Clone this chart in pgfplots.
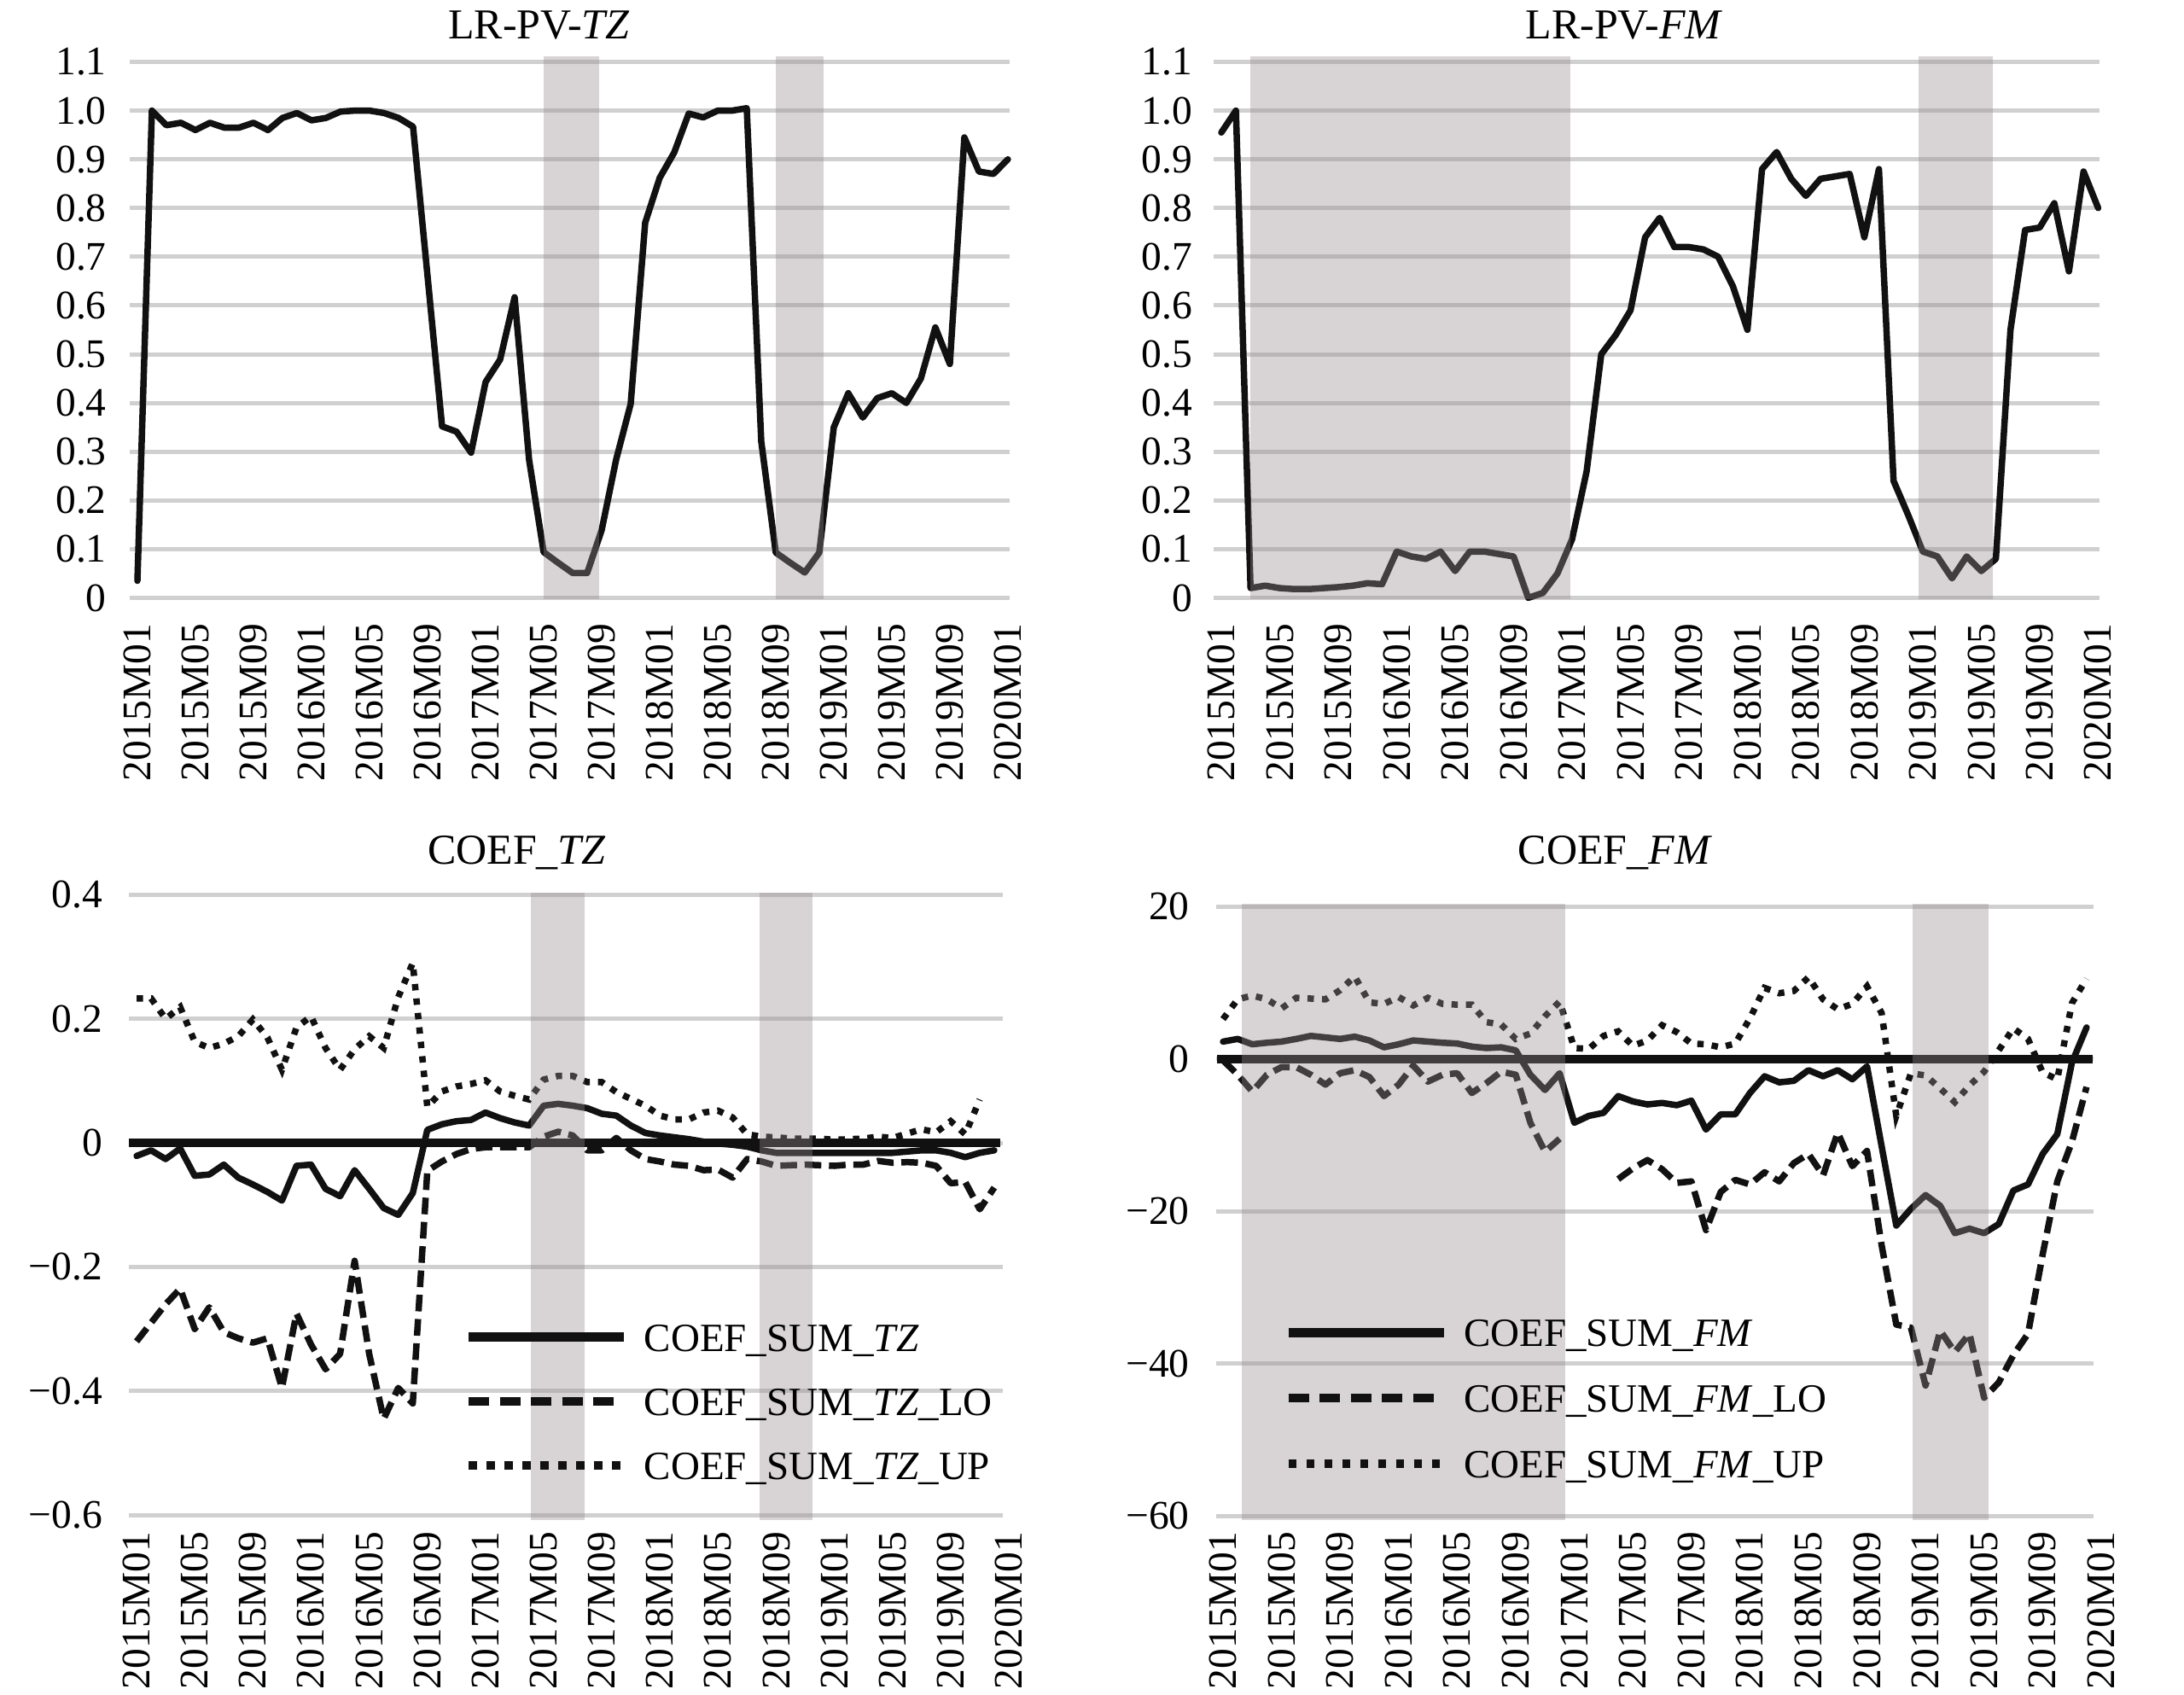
\documentclass[border=0pt]{standalone}
\usepackage{fontspec}
\setmainfont{Liberation Serif}
\usepackage{pgfplots}
\usepackage{pgfplotstable}
\pgfplotsset{compat=1.18}
\definecolor{gridc}{RGB}{208,208,208}
\definecolor{shadec}{rgb}{0.583,0.538,0.556}
\definecolor{linec}{RGB}{17,17,17}
\tikzset{gl/.style={gridc, line width=1pt}}

\pgfplotstableread{
i v
0 0.035
1 1.0
2 0.97
3 0.975
4 0.96
5 0.975
6 0.965
7 0.965
8 0.975
9 0.96
10 0.985
11 0.995
12 0.98
13 0.985
14 0.998
15 1.0
16 1.0
17 0.995
18 0.985
19 0.967
20 0.66
21 0.352
22 0.341
23 0.298
24 0.443
25 0.489
26 0.617
27 0.283
28 0.094
29 0.072
30 0.051
31 0.051
32 0.139
33 0.284
34 0.398
35 0.77
36 0.862
37 0.914
38 0.994
39 0.986
40 1.0
41 1.0
42 1.005
43 0.321
44 0.093
45 0.072
46 0.052
47 0.093
48 0.35
49 0.42
50 0.37
51 0.41
52 0.42
53 0.40
54 0.45
55 0.555
56 0.48
57 0.945
58 0.875
59 0.87
60 0.90
}\tlpv

\pgfplotstableread{
i v
0 0.955
1 1.0
2 0.02
3 0.025
4 0.02
5 0.018
6 0.018
7 0.02
8 0.022
9 0.025
10 0.03
11 0.028
12 0.095
13 0.085
14 0.08
15 0.095
16 0.055
17 0.095
18 0.095
19 0.09
20 0.085
21 0.0
22 0.01
23 0.05
24 0.12
25 0.26
26 0.50
27 0.54
28 0.59
29 0.74
30 0.78
31 0.72
32 0.72
33 0.715
34 0.70
35 0.64
36 0.55
37 0.88
38 0.915
39 0.86
40 0.825
41 0.86
42 0.865
43 0.87
44 0.74
45 0.88
46 0.24
47 0.17
48 0.095
49 0.085
50 0.04
51 0.085
52 0.055
53 0.08
54 0.55
55 0.755
56 0.76
57 0.81
58 0.67
59 0.875
60 0.80
}\trpv

\pgfplotstableread{
i sum lo up
0 -0.021 -0.32 0.233
1 -0.012 -0.29 0.233
2 -0.026 -0.26 0.20
3 -0.009 -0.235 0.219
4 -0.053 -0.30 0.163
5 -0.051 -0.265 0.153
6 -0.035 -0.305 0.160
7 -0.056 -0.315 0.172
8 -0.067 -0.322 0.199
9 -0.079 -0.315 0.17
10 -0.093 -0.395 0.118
11 -0.037 -0.275 0.186
12 -0.035 -0.325 0.204
13 -0.074 -0.365 0.153
14 -0.086 -0.34 0.118
15 -0.044 -0.19 0.151
16 -0.074 -0.34 0.172
17 -0.105 -0.445 0.153
18 -0.116 -0.395 0.235
19 -0.081 -0.42 0.29
20 0.021 -0.045 0.058
21 0.030 -0.03 0.083
22 0.035 -0.018 0.091
23 0.037 -0.01 0.095
24 0.049 -0.007 0.101
25 0.040 -0.007 0.083
26 0.033 -0.007 0.076
27 0.028 -0.007 0.070
28 0.060 0.010 0.102
29 0.063 0.018 0.108
30 0.060 0.012 0.108
31 0.056 -0.012 0.098
32 0.047 -0.012 0.098
33 0.044 0.008 0.082
34 0.028 -0.012 0.071
35 0.016 -0.026 0.060
36 0.012 -0.030 0.044
37 0.009 -0.035 0.038
38 0.006 -0.037 0.038
39 0.002 -0.044 0.049
40 -0.001 -0.043 0.052
41 -0.003 -0.056 0.041
42 -0.006 -0.026 0.014
43 -0.012 -0.030 0.010
44 -0.016 -0.037 0.009
45 -0.016 -0.036 0.007
46 -0.016 -0.035 0.007
47 -0.016 -0.036 0.007
48 -0.016 -0.037 0.005
49 -0.016 -0.035 0.006
50 -0.016 -0.035 0.007
51 -0.016 -0.029 0.010
52 -0.016 -0.032 0.008
53 -0.014 -0.031 0.015
54 -0.012 -0.032 0.022
55 -0.012 -0.037 0.017
56 -0.016 -0.065 0.035
57 -0.023 -0.063 0.014
58 -0.016 -0.107 0.070
59 -0.012 -0.072 nan
}\bltab

\pgfplotstableread{
i sum lo up
0 2.25 -0.2 5.2
1 2.6 -2.1 7.8
2 1.9 -4.3 8.3
3 2.1 -2.1 7.8
4 2.25 -1.1 6.6
5 2.6 -1.1 8.0
6 3.0 -2.1 7.9
7 2.8 -3.4 7.8
8 2.6 -1.9 9.0
9 2.9 -1.5 10.8
10 2.4 -2.4 7.4
11 1.5 -4.9 7.2
12 1.9 -3.4 8.1
13 2.4 -0.9 7.0
14 2.25 -3.0 8.0
15 2.1 -2.1 7.2
16 2.0 -1.9 7.1
17 1.6 -4.5 7.1
18 1.4 -3.2 4.8
19 1.5 -1.7 4.5
20 1.1 -2.1 2.6
21 -2.1 -8.4 3.3
22 -4.1 -12.2 5.6
23 -1.9 -10.5 7.5
24 -8.4 nan 1.4
25 -7.5 nan 1.3
26 -7.1 nan 3.0
27 -4.9 -15.8 3.6
28 -5.6 -14.4 1.7
29 -6.0 -13.3 2.4
30 -5.8 -14.5 4.4
31 -6.1 -16.3 3.5
32 -5.5 -16.1 2.0
33 -9.3 -22.5 1.9
34 -7.3 -17.5 1.5
35 -7.3 -15.9 2.0
36 -4.5 -16.5 5.3
37 -2.3 -14.9 9.3
38 -3.1 -16.1 8.6
39 -2.9 -13.7 8.9
40 -1.5 -12.5 10.7
41 -2.3 -15.3 7.8
42 -1.5 -9.7 6.5
43 -2.7 -14.1 7.2
44 -1.0 -12.1 9.5
45 -11.5 -24.5 6.0
46 -21.9 -34.9 -7.5
47 -19.7 -35.3 -1.9
48 -17.9 -42.9 -2.2
49 -19.3 -35.7 -3.9
50 -22.9 -38.5 -5.7
51 -22.3 -36.1 -3.5
52 -22.9 -44.5 -1.7
53 -21.7 -42.5 1.1
54 -17.3 -38.9 4.0
55 -16.5 -36.1 2.6
56 -12.5 -25.7 -1.8
57 -9.9 -16.1 -2.7
58 -0.5 -10.9 7.3
59 4.1 -3.7 10.5
}\brtab

\pgfplotsset{
  base/.style={scale only axis, anchor=south west, clip=false,
    axis line style={draw=none}, major tick length=0pt, tick style={draw=none},
    xtick={0,4,...,60},
    xticklabels={2015M01,2015M05,2015M09,2016M01,2016M05,2016M09,2017M01,2017M05,2017M09,2018M01,2018M05,2018M09,2019M01,2019M05,2019M09,2020M01},
    tick label style={font=\fontsize{9.5}{11}\selectfont, inner sep=0pt},
    xticklabel style={rotate=90, anchor=east},
    yticklabel style={anchor=east},
    unbounded coords=jump,
  },
  sumst/.style={linec, line width=1.5pt, line join=round, line cap=round},
  lost/.style={linec, line width=1.5pt, dash pattern=on 3.9pt off 1.8pt, line join=round},
  upst/.style={linec, line width=1.5pt, dash pattern=on 1.5pt off 1.9pt},
  sh/.style={fill=shadec, fill opacity=0.372, draw=none, forget plot},
  leg/.style={legend cell align=left,
    legend image code/.code={\draw[##1] (0pt,0pt) -- (36.4pt,0pt);},
    legend style={anchor=north west, draw=none, fill=none, inner sep=0pt, column sep=3.6pt,
      nodes={inner sep=0pt, text height=6.6pt, text depth=0pt, font=\fontsize{9.4}{11}\selectfont}}},
}

\begin{document}
\begin{tikzpicture}
\path[use as bounding box] (0,0) rectangle (511.8pt,397pt);

% titles
\node[anchor=base, font=\fontsize{10}{12}\selectfont] at (126.3pt,387.9pt) {LR-PV-\textit{TZ}};
\node[anchor=base, font=\fontsize{10}{12}\selectfont] at (380.6pt,387.9pt) {LR-PV-\textit{FM}};
\node[anchor=base, font=\fontsize{10}{12}\selectfont] at (121.1pt,194.5pt) {COEF\_\textit{TZ}};
\node[anchor=base, font=\fontsize{10}{12}\selectfont] at (378.5pt,194.5pt) {COEF\_\textit{FM}};

% top left
\begin{axis}[base, at={(30.33pt,256.5pt)}, width=206.2pt, height=127.3pt,
  xmin=-0.55, xmax=60.1, ymin=-0.0035, ymax=1.1114,
  ytick={0,0.1,0.2,0.3,0.4,0.5,0.6,0.7,0.8,0.9,1.0,1.1},
  yticklabels={0,0.1,0.2,0.3,0.4,0.5,0.6,0.7,0.8,0.9,1.0,1.1},
  xticklabel shift=5.5pt, yticklabel shift=5.2pt]
\pgfplotsinvokeforeach{0,0.1,0.2,0.3,0.4,0.5,0.6,0.7,0.8,0.9,1.0,1.1}{\draw[gl] (axis cs:-0.55,#1) -- (axis cs:60.1,#1);}
\addplot[sumst] table[x=i,y=v]{\tlpv};
\addplot[sh] coordinates {(28,-0.0035) (31.8,-0.0035) (31.8,1.1114) (28,1.1114)} -- cycle;
\addplot[sh] coordinates {(44,-0.0035) (47.3,-0.0035) (47.3,1.1114) (44,1.1114)} -- cycle;
\end{axis}

% top right
\begin{axis}[base, at={(284.42pt,256.5pt)}, width=207.6pt, height=127.3pt,
  xmin=-0.52, xmax=60.1, ymin=-0.0035, ymax=1.1114,
  ytick={0,0.1,0.2,0.3,0.4,0.5,0.6,0.7,0.8,0.9,1.0,1.1},
  yticklabels={0,0.1,0.2,0.3,0.4,0.5,0.6,0.7,0.8,0.9,1.0,1.1},
  xticklabel shift=5.5pt, yticklabel shift=4.8pt]
\pgfplotsinvokeforeach{0,0.1,0.2,0.3,0.4,0.5,0.6,0.7,0.8,0.9,1.0,1.1}{\draw[gl] (axis cs:-0.52,#1) -- (axis cs:60.1,#1);}
\addplot[sumst] table[x=i,y=v]{\trpv};
\addplot[sh] coordinates {(2.0,-0.0035) (23.9,-0.0035) (23.9,1.1114) (2.0,1.1114)} -- cycle;
\addplot[sh] coordinates {(47.7,-0.0035) (52.8,-0.0035) (52.8,1.1114) (47.7,1.1114)} -- cycle;
\end{axis}

% bottom left
\begin{axis}[base, leg, at={(30.23pt,40.8pt)}, width=207.2pt, height=147.1pt,
  xmin=-0.52, xmax=60.3, ymin=-0.608, ymax=0.404,
  ytick={-0.6,-0.4,-0.2,0,0.2,0.4},
  yticklabels={−0.6,−0.4,−0.2,0,0.2,0.4},
  xticklabel shift=2.5pt, yticklabel shift=6pt,
  legend style={at={(0.3781,0.3154)}, row sep=8.46pt}]
\pgfplotsinvokeforeach{-0.6,-0.4,-0.2,0,0.2,0.4}{\draw[gl] (axis cs:-0.52,#1) -- (axis cs:59.6,#1);}
\addplot[forget plot, linec, line width=2pt] coordinates {(-0.5,0) (59.4,0)};
\addplot[sumst, legend image post style={line width=2.2pt, line cap=butt}] table[x=i, y=sum]{\bltab};
\addlegendentry{COEF\_SUM\_\textit{TZ}}
\addplot[lost, legend image post style={line width=2.1pt, dash pattern=on 4.8pt off 2.5pt}] table[x=i, y=lo]{\bltab};
\addlegendentry{COEF\_SUM\_\textit{TZ}\_LO}
\addplot[upst, legend image post style={line width=1.9pt, dash pattern=on 1.9pt off 2.3pt}] table[x=i, y=up]{\bltab};
\addlegendentry{COEF\_SUM\_\textit{TZ}\_UP}
\addplot[sh] coordinates {(27.1,-0.608) (30.8,-0.608) (30.8,0.404) (27.1,0.404)} -- cycle;
\addplot[sh] coordinates {(42.85,-0.608) (46.5,-0.608) (46.5,0.404) (42.85,0.404)} -- cycle;
\end{axis}

% bottom right
\begin{axis}[base, leg, at={(284.92pt,40.8pt)}, width=208.5pt, height=144.4pt,
  xmin=-0.49, xmax=60.3, ymin=-60.56, ymax=20.34,
  ytick={-60,-40,-20,0,20},
  yticklabels={−60,−40,−20,0,20},
  xticklabel shift=2.5pt, yticklabel shift=6pt,
  legend style={at={(0.0752,0.3283)}, row sep=8.75pt}]
\pgfplotsinvokeforeach{-60,-40,-20,0,20}{\draw[gl] (axis cs:-0.49,#1) -- (axis cs:59.5,#1);}
\addplot[forget plot, linec, line width=2pt] coordinates {(-0.4,0) (59.4,0)};
\addplot[sumst, legend image post style={line width=2.2pt, line cap=butt}] table[x=i, y=sum]{\brtab};
\addlegendentry{COEF\_SUM\_\textit{FM}}
\addplot[lost, legend image post style={line width=2.1pt, dash pattern=on 4.8pt off 2.5pt}] table[x=i, y=lo]{\brtab};
\addlegendentry{COEF\_SUM\_\textit{FM}\_LO}
\addplot[upst, legend image post style={line width=1.9pt, dash pattern=on 1.9pt off 2.3pt}] table[x=i, y=up]{\brtab};
\addlegendentry{COEF\_SUM\_\textit{FM}\_UP}
\addplot[sh] coordinates {(1.3,-60.56) (23.4,-60.56) (23.4,20.34) (1.3,20.34)} -- cycle;
\addplot[sh] coordinates {(47.1,-60.56) (52.3,-60.56) (52.3,20.34) (47.1,20.34)} -- cycle;
\end{axis}
\end{tikzpicture}
\end{document}
